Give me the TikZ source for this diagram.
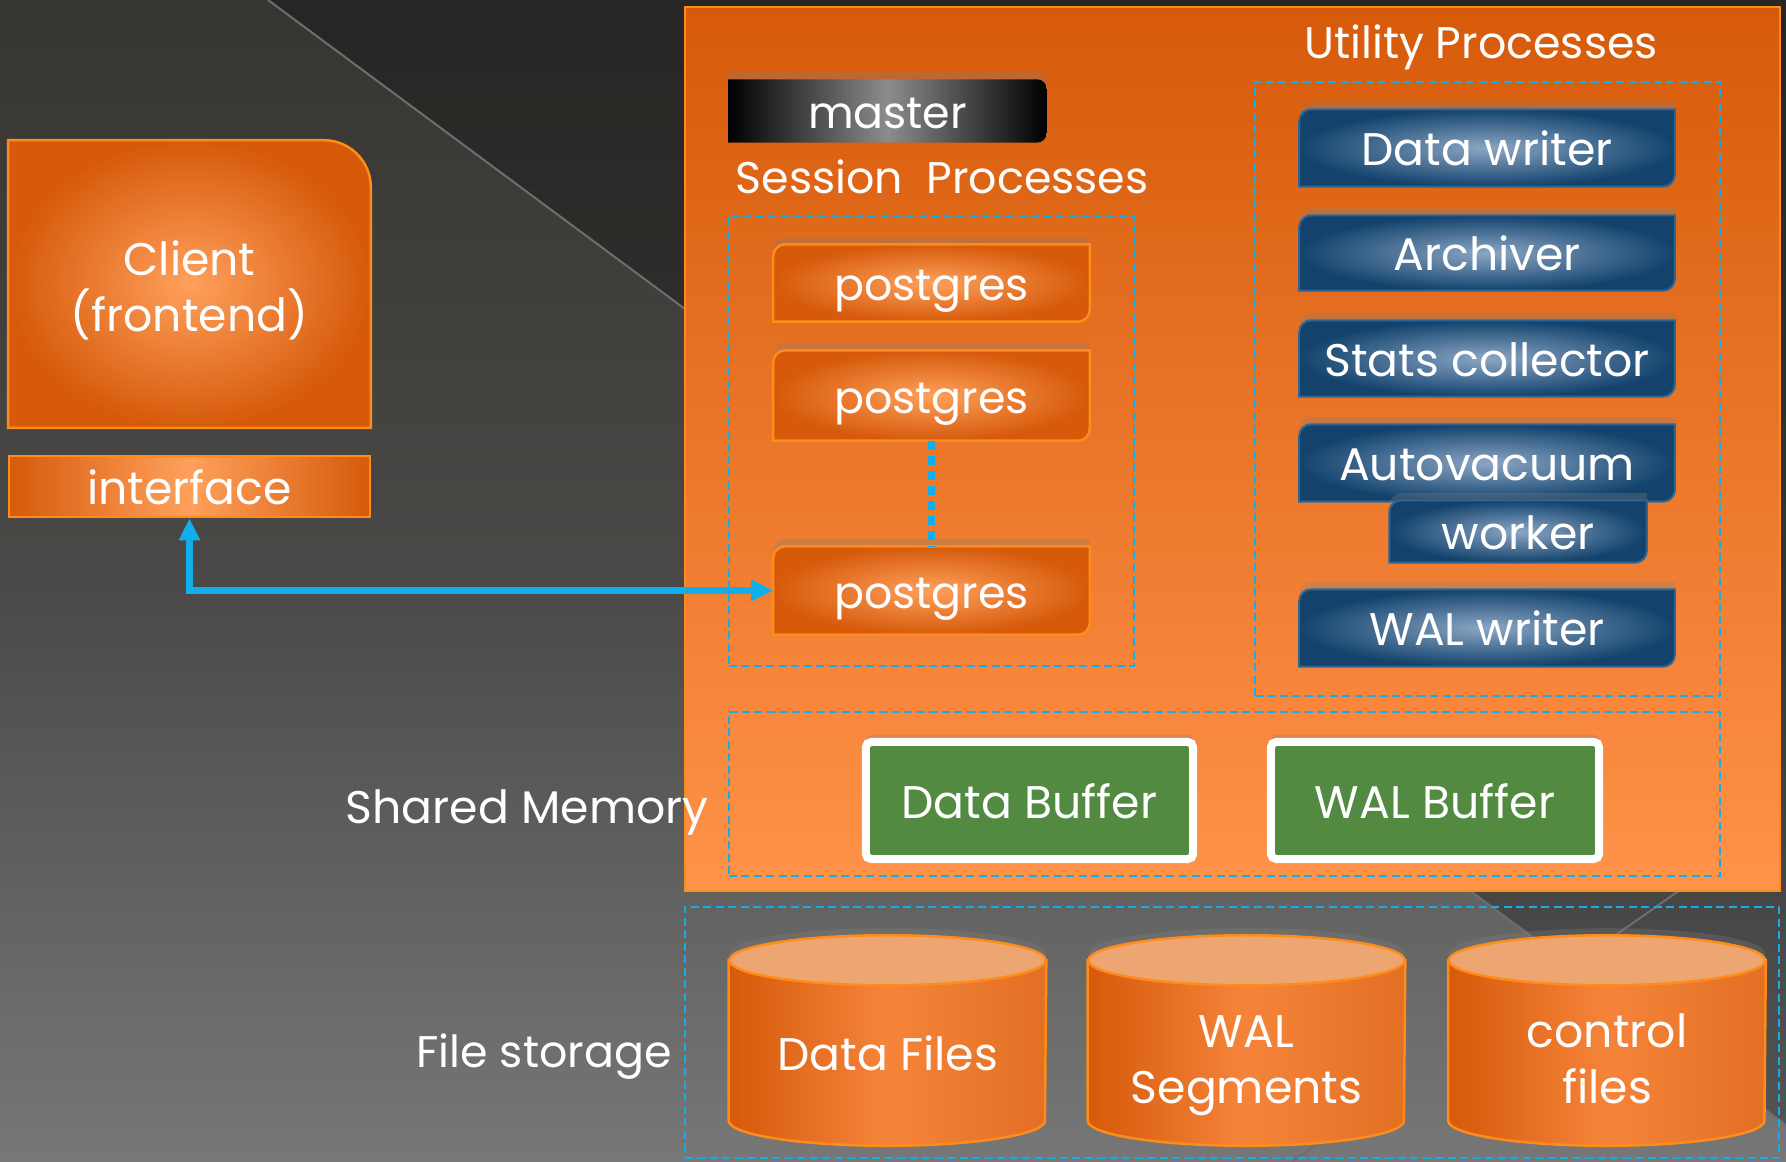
\documentclass[tikz,border=0pt]{standalone}
\usepackage{fontspec}
\setmainfont{Poppins}
\usetikzlibrary{arrows.meta,backgrounds,shadows}

\definecolor{bgtop}{HTML}{373532}
\definecolor{bgmid}{HTML}{4A4947}
\definecolor{bgbot}{HTML}{777777}
\definecolor{decoline}{HTML}{6E6E6E}
\definecolor{ordark}{HTML}{D65A0A}
\definecolor{ormid}{HTML}{F5843A}
\definecolor{orlight}{HTML}{FFA05C}
\definecolor{orbottom}{HTML}{FF9349}
\definecolor{oredge}{HTML}{FF8C1A}
\definecolor{bldark}{HTML}{13436D}
\definecolor{bllight}{HTML}{8BA6C4}
\definecolor{bledge}{HTML}{2F6594}
\definecolor{linkblue}{HTML}{12AEEB}
\definecolor{bufgreen}{HTML}{528A42}
\definecolor{cyltopc}{HTML}{EDA671}

\begin{document}
\begin{tikzpicture}[
  x=0.01cm,
  y=0.01cm,
  font=\fontsize{13}{16}\selectfont,
  text=white,
  >={Triangle[length=0.22cm, width=0.2cm]},
  tag/.style={inner sep=0pt, align=center, text height=1.1em, text depth=0.1em},
  tagml/.style={inner sep=0pt, align=center},
  narrow/.style={font=\fontsize{12.6}{16}\selectfont},
  softshadow/.style={drop shadow={shadow xshift=0pt, shadow yshift=2pt, opacity=0.3}},
  bar/.style={tag, shade, left color=ordark, right color=ordark, middle color=orlight, draw=oredge, line width=0.025cm},
  buffer/.style={tag, fill=bufgreen, draw=white, line width=0.08cm, rounded corners=1.5pt, softshadow},
  group/.style={draw=linkblue, line width=0.02cm, dash pattern=on 0.08cm off 0.045cm, inner sep=0pt},
  orproc/.style={shade, inner color=orlight, outer color=ordark, draw=oredge, line width=0.025cm},
  blproc/.style={shade, inner color=bllight, outer color=bldark, draw=bledge, line width=0.02cm, softshadow},
  cylbody/.style={shade, left color=ordark, right color=ordark!70!orlight, middle color=ormid, draw=oredge, line width=0.025cm},
  cyltop/.style={fill=cyltopc, draw=oredge, line width=0.025cm, softshadow},
  link/.style={<->, draw=linkblue, line width=0.065cm},
  dotlink/.style={draw=linkblue, line width=0.07cm, dash pattern=on 0.09cm off 0.06cm}
]
  \useasboundingbox (0,0) rectangle (1786,1161);

  % client side
  \node[tagml, minimum width=3.61cm, minimum height=2.86cm] (client) at (189.5,877) {\rule{0pt}{1.05em}Client\\(frontend)};
  \node[bar, minimum width=3.61cm, minimum height=0.61cm] (iface) at (189.5,674.5) {interface};

  % session processes
  \node[tag, narrow, minimum width=3.17cm, minimum height=0.62cm] (master) at (887.5,1050) {master};
  \node[tag, narrow, anchor=west] (sesslabel) at (735,985.5) {Session~~Processes};
  \node[group, minimum width=4.05cm, minimum height=4.5cm] (session) at (931.5,720) {};
  \node[tag, narrow, minimum width=3.15cm, minimum height=0.76cm] (pg1) at (931.5,878) {postgres};
  \node[tag, narrow, minimum width=3.15cm, minimum height=0.89cm] (pg2) at (931.5,765.5) {postgres};
  \node[tag, narrow, minimum width=3.15cm, minimum height=0.87cm] (pg3) at (931.5,570.5) {postgres};

  % utility processes
  \node[tag, narrow] (utillabel) at (1481,1120.5) {Utility Processes};
  \node[group, minimum width=4.65cm, minimum height=6.14cm] (utility) at (1487.5,772) {};
  \node[tag, minimum width=3.74cm, minimum height=0.76cm] (datawriter) at (1487,1013) {Data writer};
  \node[tag, minimum width=3.74cm, minimum height=0.74cm] (archiver) at (1487,908) {Archiver};
  \node[tag, minimum width=3.74cm, minimum height=0.75cm] (stats) at (1487,802.5) {Stats collector};
  \node[tag, minimum width=3.74cm, minimum height=0.76cm] (autovac) at (1487,698) {Autovacuum};
  \node[tag, minimum width=2.56cm, minimum height=0.61cm] (avworker) at (1518,629.5) {worker};
  \node[tag, minimum width=3.74cm, minimum height=0.76cm] (walwriter) at (1487,533) {WAL writer};

  % shared memory
  \node[tag] (shmlabel) at (527,355.5) {Shared Memory};
  \node[group, minimum width=9.91cm, minimum height=1.64cm] (shmem) at (1224.5,367) {};
  \node[buffer, minimum width=3.27cm, minimum height=1.17cm] (databuf) at (1029.5,360.5) {Data Buffer};
  \node[buffer, minimum width=3.28cm, minimum height=1.17cm] (walbuf) at (1435,360.5) {WAL Buffer};

  % file storage
  \node[tag, narrow] (fslabel) at (544,111.5) {File storage};
  \node[group, minimum width=10.94cm, minimum height=2.51cm] (storage) at (1232,128.5) {};
  \node[tag, minimum width=3.16cm, minimum height=1.84cm] (datafiles) at (887.5,108) {Data Files};
  \node[tagml, minimum width=3.16cm, minimum height=1.84cm] (walseg) at (1246.5,108) {\rule{0pt}{1.25em}WAL\\Segments};
  \node[tagml, minimum width=3.16cm, minimum height=1.84cm] (ctrlfiles) at (1607,108) {\rule{0pt}{1em}control\\files};

  \draw[link] (iface.south) |- (pg3.west);
  \draw[dotlink] (pg2.south) -- (pg3.north);

  \begin{scope}[on background layer]
    \shade[top color=bgtop, bottom color=bgbot, middle color=bgmid] (0,0) rectangle (1786,1161);
    \fill[black, opacity=0.28] (268,1161) -- (1786,36) -- (1786,1161) -- cycle;
    \draw[decoline, line width=0.02cm] (268,1161) -- (1786,36);
    \draw[decoline, line width=0.02cm] (1293,0) -- (1700,285);

    \path[shade, top color=ordark, bottom color=orbottom, draw=oredge, line width=0.025cm] (685,270) rectangle (1780,1154);

    \path[orproc] (client.south west) -- (client.north west) -- ([xshift=-0.47cm]client.north east)
      arc[start angle=90, end angle=0, radius=0.47cm] -- (client.south east) -- cycle;
    \path[shade, left color=black, right color=black, middle color=black!45, softshadow] (master.south west) -- (master.north west)
      -- ([xshift=-0.1cm]master.north east) arc[start angle=90, end angle=0, radius=0.1cm]
      -- ([yshift=0.1cm]master.south east) arc[start angle=0, end angle=-90, radius=0.1cm] -- cycle;

    \foreach \n in {pg1,pg2,pg3}
      \path[orproc, softshadow] (\n.south west) -- ([yshift=-0.12cm]\n.north west) arc[start angle=180, end angle=90, radius=0.12cm]
        -- (\n.north east) -- ([yshift=0.12cm]\n.south east) arc[start angle=0, end angle=-90, radius=0.12cm] -- cycle;
    \foreach \n in {datawriter,archiver,stats,autovac,avworker,walwriter}
      \path[blproc] (\n.south west) -- ([yshift=-0.12cm]\n.north west) arc[start angle=180, end angle=90, radius=0.12cm]
        -- (\n.north east) -- ([yshift=0.12cm]\n.south east) arc[start angle=0, end angle=-90, radius=0.12cm] -- cycle;

    \foreach \n in {datafiles,walseg,ctrlfiles} {
      \path[cylbody] (\n.north west) -- ([yshift=0.25cm]\n.south west)
        arc[x radius=1.58cm, y radius=0.25cm, start angle=180, end angle=360] -- (\n.north east) -- cycle;
      \path[cyltop] (\n.north) ellipse[x radius=1.58cm, y radius=0.25cm];
    }
  \end{scope}
\end{tikzpicture}
\end{document}
